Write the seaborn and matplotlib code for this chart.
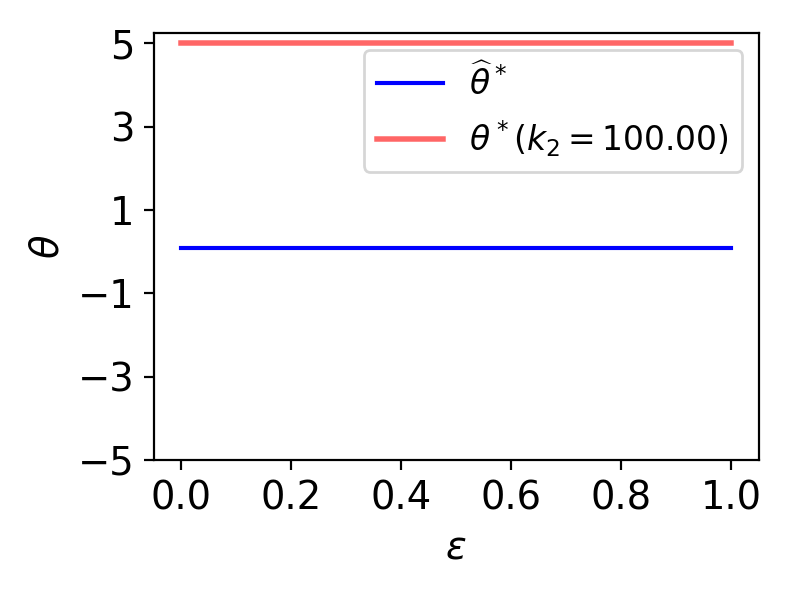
import matplotlib
matplotlib.use("Agg")
import matplotlib.pyplot as plt
import seaborn as sns
import pandas as pd

eps = [0.0, 0.2, 0.4, 0.6, 0.8, 1.0]
theta_hat = [0.09, 0.09, 0.09, 0.09, 0.09, 0.09]
theta_star = [5.0, 5.0, 5.0, 5.0, 5.0, 5.0]
xticks = [0.0, 0.2, 0.4, 0.6, 0.8, 1.0]
yticks = [-5, -3, -1, 1, 3, 5]
label_hat = r"$\widehat{\theta}^*$"
label_star = r"$\theta^*(k_2=100.00)$"

plt.rcParams.update({"font.size": 14})
fig, ax = plt.subplots(figsize=(4, 3), dpi=198)
fig.subplots_adjust(left=0.194, right=0.958, top=0.944, bottom=0.226)

df_hat = pd.DataFrame({"eps": eps, "theta": theta_hat})
df_star = pd.DataFrame({"eps": eps, "theta": theta_star})
sns.lineplot(data=df_hat, x="eps", y="theta", ax=ax, color="blue", lw=1.5, label=label_hat)
sns.lineplot(data=df_star, x="eps", y="theta", ax=ax, color="#ff6666", lw=2.0, label=label_star)

ax.set_ylim(bottom=-5)
ax.set_yticks(yticks)
ax.set_xticks(xticks)
ax.set_xlabel(r"$\epsilon$")
ax.set_ylabel(r"$\theta$")
ax.legend(loc="upper right", fontsize=12)
fig.savefig("out.png", dpi=198)
